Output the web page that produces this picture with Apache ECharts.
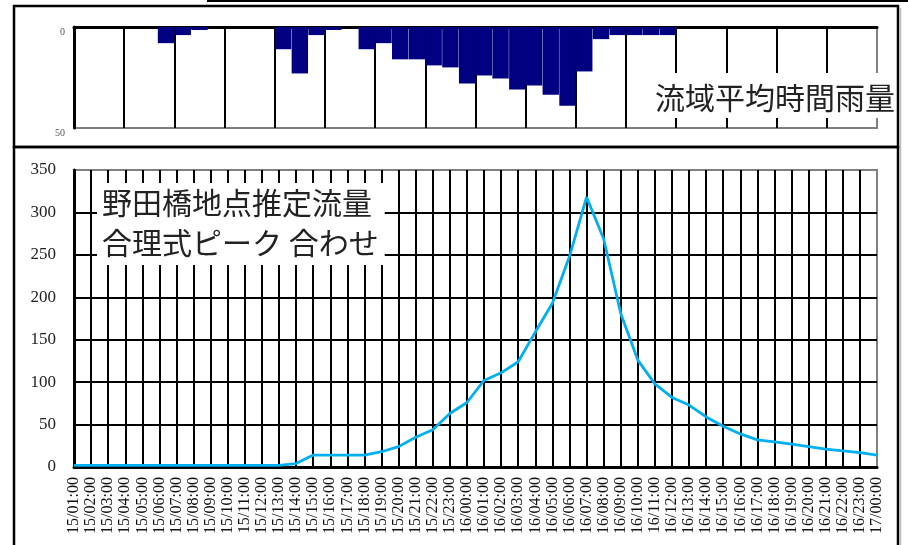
<!DOCTYPE html>
<html><head><meta charset="utf-8">
<script src="https://cdn.jsdelivr.net/npm/echarts@6/dist/echarts.min.js"></script>
<style>html,body{margin:0;padding:0;background:#fff}#c{width:908px;height:545px}</style>
</head><body><div id="c"></div>
<script>
const timeLabels = [
  '15/01:00','15/02:00','15/03:00','15/04:00','15/05:00','15/06:00','15/07:00','15/08:00',
  '15/09:00','15/10:00','15/11:00','15/12:00','15/13:00','15/14:00','15/15:00','15/16:00',
  '15/17:00','15/18:00','15/19:00','15/20:00','15/21:00','15/22:00','15/23:00','16/00:00',
  '16/01:00','16/02:00','16/03:00','16/04:00','16/05:00','16/06:00','16/07:00','16/08:00',
  '16/09:00','16/10:00','16/11:00','16/12:00','16/13:00','16/14:00','16/15:00','16/16:00',
  '16/17:00','16/18:00','16/19:00','16/20:00','16/21:00','16/22:00','16/23:00','17/00:00'
];
// 流域平均時間雨量 (mm)
const rainfall = [
  0, 0, 0, 0, 0, 8, 4, 1.5,
  0, 0, 0, 0, 11, 23, 4, 1.5,
  0, 11, 8, 16, 16, 19, 20, 28,
  24, 25.5, 31, 29, 33.5, 39, 22, 6,
  4, 4, 4, 4, 0, 0, 0, 0,
  0, 0, 0, 0, 0, 0, 0, 0
];
// 野田橋地点推定流量
const flow = [
  2, 2, 2, 2, 2, 2, 2, 2,
  2, 2, 2, 2, 2, 4, 14, 14,
  14, 14, 18, 24, 35, 44, 63, 76,
  102, 111, 124, 159, 193, 248, 318, 269,
  181, 126, 98, 82, 73, 59, 48, 39,
  32, 29.5, 27, 24, 21, 19, 17, 14
];
const rainTitle = '流域平均時間雨量';
const flowTitle = '野田橋地点推定流量\n合理式ピーク 合わせ';

const serif = 'Liberation Serif';
const jp = 'Noto Sans CJK JP';
const chart = echarts.init(document.getElementById('c'), null, {renderer: 'canvas'});
chart.setOption({
  animation: false,
  backgroundColor: '#ffffff',
  title: [
    {text: rainTitle, left: 652, top: 73, backgroundColor: '#ffffff', padding: [9, 2, 5, 3],
     textStyle: {fontSize: 30, fontWeight: 'normal', fontFamily: jp, color: '#222', lineHeight: 31}},
    {text: flowTitle, left: 97, top: 183, backgroundColor: '#ffffff', padding: [0, 6, 2, 5],
     textStyle: {fontSize: 30, fontWeight: 'normal', fontFamily: jp, color: '#222', lineHeight: 40}}
  ],
  grid: [
    {left: 74, right: 31, top: 27, height: 101, show: true, borderColor: '#808080', borderWidth: 2,
     containLabel: false, outerBoundsMode: 'none'},
    {left: 74, right: 31, top: 170, height: 297, show: true, borderColor: '#808080', borderWidth: 2,
     containLabel: false, outerBoundsMode: 'none'}
  ],
  xAxis: [
    {type: 'category', gridIndex: 0, data: timeLabels, position: 'top', boundaryGap: true,
     axisLine: {show: true, onZero: false, lineStyle: {color: '#000', width: 3}},
     axisTick: {show: false}, axisLabel: {show: false},
     splitLine: {show: true, interval: 2, showMinLine: false, showMaxLine: false,
                 lineStyle: {color: '#000', width: 2}}},
    {type: 'category', gridIndex: 1, data: timeLabels, boundaryGap: false,
     axisLine: {show: true, onZero: false, lineStyle: {color: '#000', width: 3}},
     axisTick: {show: false},
     axisLabel: {interval: 0, rotate: 90, margin: 10, fontSize: 16, fontFamily: serif, color: '#111'},
     splitLine: {show: true, interval: 0, showMinLine: false, showMaxLine: false,
                 lineStyle: {color: '#000', width: 2}}}
  ],
  yAxis: [
    {type: 'value', gridIndex: 0, min: 0, max: 50, interval: 50, inverse: true,
     axisLine: {show: true, lineStyle: {color: '#000', width: 3}},
     axisTick: {show: false},
     axisLabel: {fontSize: 10, fontFamily: serif, color: '#555', margin: 9, verticalAlign: 'top'},
     splitLine: {show: false}},
    {type: 'value', gridIndex: 1, min: 0, max: 350, interval: 50,
     axisLine: {show: true, lineStyle: {color: '#000', width: 3}},
     axisTick: {show: false},
     axisLabel: {fontSize: 17, fontFamily: serif, color: '#222', margin: 18},
     splitLine: {show: true, showMinLine: false, showMaxLine: false, lineStyle: {color: '#000', width: 2}}}
  ],
  series: [
    {type: 'bar', xAxisIndex: 0, yAxisIndex: 0, data: rainfall, barCategoryGap: '2%',
     itemStyle: {color: '#000080'}, z: 3},
    {type: 'line', xAxisIndex: 1, yAxisIndex: 1, data: flow, showSymbol: false, symbol: 'none',
     lineStyle: {color: '#00b0f0', width: 2.8}, z: 5}
  ],
  graphic: [
    {type: 'rect', shape: {x: 14, y: 6, width: 884, height: 141}, style: {fill: null, stroke: '#000', lineWidth: 2.5}, z: 10},
    {type: 'rect', shape: {x: 14, y: 147, width: 884, height: 420}, style: {fill: null, stroke: '#000', lineWidth: 2.5}, z: 10},
    {type: 'line', shape: {x1: 207, y1: 1, x2: 908, y2: 1}, style: {stroke: '#000', lineWidth: 2}, z: 10},
    {type: 'line', shape: {x1: 900.5, y1: 8, x2: 900.5, y2: 545}, style: {stroke: '#bbbbbb', lineWidth: 1.5}, z: 10}
  ]
});
</script></body></html>
